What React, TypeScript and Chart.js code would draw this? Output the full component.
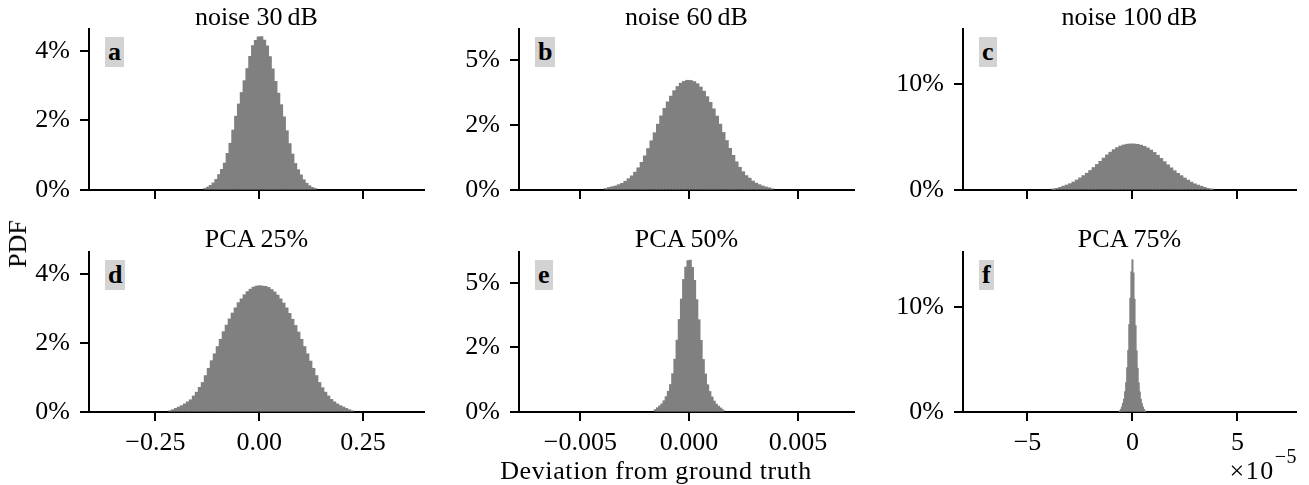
import React, { useEffect, useRef } from 'react';
import { Chart, registerables } from 'chart.js';

Chart.register(...registerables);

const FONT_FAMILY = '"Liberation Serif", "DejaVu Serif", serif';
const FONT_SIZE = 26;

// ---------- texts ----------
const panelTitles = ['noise 30\u2009dB', 'noise 60\u2009dB', 'noise 100\u2009dB', 'PCA 25%', 'PCA 50%', 'PCA 75%'];
const panelLetters = ['a', 'b', 'c', 'd', 'e', 'f'];
const yAxisLabel = 'PDF';
const xAxisLabel = 'Deviation from ground truth';

// ---------- axes (per column) ----------
const xMin = [-0.41, -0.00782, -8.07];
const xMax = [0.397, 0.00758, 7.79];
const xTickValues = [[-0.25, 0, 0.25], [-0.005, 0, 0.005], [-5, 0, 5]];
const xTickLabels = [['\u22120.25', '0.00', '0.25'], ['\u22120.005', '0.000', '0.005'], ['\u22125', '0', '5']];
const yMax = [4.63, 6.2, 15.2];
const yTickValues = [[0, 2, 4], [0, 2.5, 5], [0, 10]];
const yTickLabels = [['0%', '2%', '4%'], ['0%', '2%', '5%'], ['0%', '10%']];

// ---------- histogram data (PDF in %) ----------
const binStartA = -0.134;
const binWidthA = 0.0068;
const pdfA = [0.04, 0.08, 0.13, 0.20, 0.30, 0.44, 0.59, 0.77, 1.05, 1.34, 1.72, 2.12, 2.47, 2.80, 3.14, 3.49, 3.84, 4.15, 4.30, 4.40,
  4.41, 4.31, 4.14, 3.83, 3.48, 3.12, 2.78, 2.45, 2.10, 1.70, 1.33, 1.03, 0.76, 0.58, 0.43, 0.29, 0.19, 0.12, 0.07, 0.04];

const binStartB = -0.0039;
const binWidthB = 0.00015;
const pdfB = [0.05, 0.09, 0.12, 0.15, 0.20, 0.25, 0.33, 0.43, 0.54, 0.68, 0.85, 1.06, 1.31, 1.59, 1.89, 2.20, 2.53, 2.85, 3.14, 3.39, 3.61, 3.82, 3.98, 4.11, 4.18, 4.22,
  4.21, 4.17, 4.09, 3.96, 3.80, 3.59, 3.37, 3.12, 2.84, 2.53, 2.21, 1.90, 1.60, 1.33, 1.08, 0.87, 0.70, 0.55, 0.45, 0.34, 0.26, 0.20, 0.15, 0.11, 0.08, 0.04];

const binStartC = -3.84; // units of 1e-5
const binWidthC = 0.16;
const pdfC = [0.06, 0.13, 0.23, 0.35, 0.46, 0.58, 0.74, 0.93, 1.13, 1.35, 1.57, 1.83, 2.11, 2.40, 2.69, 3.00, 3.30, 3.56, 3.80, 3.99, 4.14, 4.24, 4.31, 4.34,
  4.33, 4.30, 4.22, 4.11, 3.96, 3.76, 3.53, 3.27, 2.97, 2.66, 2.37, 2.08, 1.81, 1.56, 1.34, 1.12, 0.92, 0.73, 0.57, 0.45, 0.34, 0.23, 0.13, 0.06];

const binStartD = -0.2187;
const binWidthD = 0.0072;
const pdfD = [0.03, 0.06, 0.10, 0.14, 0.18, 0.23, 0.29, 0.35, 0.46, 0.57, 0.71, 0.85, 1.05, 1.26, 1.48, 1.68, 1.89, 2.10, 2.32, 2.51, 2.69, 2.86, 3.01, 3.16, 3.27, 3.39, 3.48, 3.55, 3.61, 3.64, 3.65,
  3.64, 3.63, 3.60, 3.54, 3.47, 3.38, 3.27, 3.15, 3.01, 2.85, 2.68, 2.50, 2.31, 2.10, 1.89, 1.68, 1.47, 1.26, 1.05, 0.85, 0.70, 0.57, 0.46, 0.36, 0.29, 0.23, 0.18, 0.14, 0.10, 0.06, 0.03];

const binStartE = -0.0016;
const binWidthE = 0.0001;
const pdfE = [0.09, 0.16, 0.23, 0.31, 0.43, 0.59, 0.80, 1.06, 1.48, 2.04, 2.78, 3.58, 4.37, 5.13, 5.61, 5.86,
  5.88, 5.60, 5.10, 4.35, 3.57, 2.77, 2.03, 1.47, 1.05, 0.79, 0.58, 0.42, 0.30, 0.22, 0.15, 0.08];

const binStartF = -0.625; // units of 1e-5
const binWidthF = 0.05;
const pdfF = [0.06, 0.25, 0.48, 0.82, 1.22, 1.92, 2.78, 4.20, 5.84, 8.30, 10.80, 13.30, 14.45, 13.20, 10.70, 8.20, 5.80, 4.15, 2.75, 1.90, 1.20, 0.80, 0.47, 0.24, 0.06];

const panels = [
  { row: 0, col: 0, start: binStartA, width: binWidthA, values: pdfA },
  { row: 0, col: 1, start: binStartB, width: binWidthB, values: pdfB },
  { row: 0, col: 2, start: binStartC, width: binWidthC, values: pdfC },
  { row: 1, col: 0, start: binStartD, width: binWidthD, values: pdfD },
  { row: 1, col: 1, start: binStartE, width: binWidthE, values: pdfE },
  { row: 1, col: 2, start: binStartF, width: binWidthF, values: pdfF },
];

// ---------- layout (page pixels) ----------
const colLeft = [89, 519, 963];
const colRight = [424, 854, 1296];
const rowTop = [29, 252];
const rowBottom = [190, 412];
const GUT_L = 90;
const PAD_T = 32;
const PAD_R = 12;
const GUT_B = [32, 62];
const titleTop = [4.2, 225.9];

const BAR_COLOR = '#808080';

function Panel({ idx }: { idx: number }) {
  const ref = useRef<HTMLCanvasElement | null>(null);
  const p = panels[idx];
  const L = colLeft[p.col];
  const R = colRight[p.col];
  const T = rowTop[p.row];
  const B = rowBottom[p.row];
  const w = R - L + GUT_L + PAD_R;
  const h = B - T + PAD_T + GUT_B[p.row];

  useEffect(() => {
    if (!ref.current) return;
    const font = { family: FONT_FAMILY, size: FONT_SIZE };
    const data = p.values.map((v, i) => ({ x: p.start + (i + 0.5) * p.width, y: v }));
    const axisCommon = {
      grid: {
        display: true,
        drawOnChartArea: false,
        drawTicks: true,
        tickLength: 9,
        lineWidth: 2,
        color: '#000',
        offset: false,
      },
      border: { display: true, width: 2, color: '#000' },
      z: 1,
    };
    const chart = new Chart(ref.current, {
      type: 'bar',
      data: {
        datasets: [
          {
            data,
            backgroundColor: BAR_COLOR,
            borderWidth: 0,
            barPercentage: 1,
            categoryPercentage: 1,
            inflateAmount: 0.5,
          } as any,
        ],
      },
      options: {
        animation: false,
        responsive: false,
        maintainAspectRatio: false,
        devicePixelRatio: 1,
        events: [],
        layout: { padding: { top: PAD_T, right: PAD_R, left: 0, bottom: 0 } },
        plugins: {
          legend: { display: false },
          tooltip: { enabled: false },
          title: { display: false },
        },
        scales: {
          x: {
            ...axisCommon,
            type: 'linear',
            min: xMin[p.col],
            max: xMax[p.col],
            offset: false,
            afterBuildTicks: (s: any) => {
              s.ticks = xTickValues[p.col].map((v) => ({ value: v }));
            },
            afterFit: (s: any) => {
              s.height = GUT_B[p.row];
            },
            ticks: {
              display: p.row === 1,
              autoSkip: false,
              maxRotation: 0,
              minRotation: 0,
              padding: 7,
              color: '#000',
              font,
              callback: (_v: any, i: number) => xTickLabels[p.col][i],
            },
          },
          y: {
            ...axisCommon,
            type: 'linear',
            min: 0,
            max: yMax[p.col],
            afterBuildTicks: (s: any) => {
              s.ticks = yTickValues[p.col].map((v) => ({ value: v }));
            },
            afterFit: (s: any) => {
              s.width = GUT_L;
            },
            ticks: {
              autoSkip: false,
              padding: 10,
              color: '#000',
              font,
              callback: (_v: any, i: number) => yTickLabels[p.col][i],
            },
          },
        },
      } as any,
    });
    return () => chart.destroy();
  }, []);

  return (
    <canvas
      ref={ref}
      width={w}
      height={h}
      style={{ position: 'absolute', left: L - GUT_L, top: T - PAD_T, width: w, height: h }}
    />
  );
}

export default function App() {
  return (
    <div
      style={{
        position: 'absolute',
        left: 0,
        top: 0,
        width: 1309,
        height: 485,
        overflow: 'hidden',
        background: '#fff',
        fontFamily: FONT_FAMILY,
        fontSize: FONT_SIZE,
        color: '#000',
      }}
    >
      {panels.map((p, i) => (
        <Panel key={'c' + i} idx={i} />
      ))}
      {panels.map((p, i) => (
        <div
          key={'t' + i}
          style={{
            position: 'absolute',
            left: colLeft[p.col],
            width: colRight[p.col] - colLeft[p.col],
            top: titleTop[p.row],
            textAlign: 'center',
            lineHeight: FONT_SIZE + 'px',
            whiteSpace: 'nowrap',
          }}
        >
          {panelTitles[i]}
        </div>
      ))}
      {panels.map((p, i) => (
        <div
          key={'l' + i}
          style={{
            position: 'absolute',
            left: colLeft[p.col] + 16,
            top: rowTop[p.row] + 7.5,
            height: 30,
            lineHeight: '30px',
            padding: '0 3px',
            background: '#d3d3d3',
            fontWeight: 'bold',
          }}
        >
          {panelLetters[i]}
        </div>
      ))}
      <div
        style={{
          position: 'absolute',
          left: 18,
          top: 244,
          lineHeight: FONT_SIZE + 'px',
          whiteSpace: 'nowrap',
          transform: 'translate(-50%, -50%) rotate(-90deg)',
        }}
      >
        {yAxisLabel}
      </div>
      <div
        style={{
          position: 'absolute',
          left: 656,
          top: 458.2,
          lineHeight: FONT_SIZE + 'px',
          whiteSpace: 'nowrap',
          letterSpacing: '0.6px',
          transform: 'translateX(-50%)',
        }}
      >
        {xAxisLabel}
      </div>
      <div
        style={{
          position: 'absolute',
          right: 12,
          top: 458.2,
          lineHeight: FONT_SIZE + 'px',
          whiteSpace: 'nowrap',
        }}
      >
        <span style={{ letterSpacing: '1.5px' }}>{'\u00d710'}</span>
        <span style={{ fontSize: 20, position: 'relative', top: -16, letterSpacing: '0.5px' }}>{'\u22125'}</span>
      </div>
    </div>
  );
}
